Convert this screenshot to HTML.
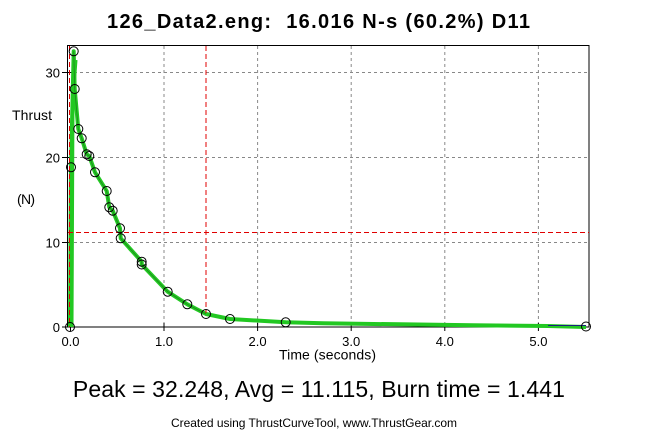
<!DOCTYPE html>
<html><head><meta charset="utf-8"><style>
html,body{margin:0;padding:0;background:#fff;}
svg{display:block;font-family:"Liberation Sans",Arial,sans-serif;}
</style></head><body>
<svg width="645" height="437" viewBox="0 0 645 437" xmlns="http://www.w3.org/2000/svg">
<rect x="0" y="0" width="645" height="437" fill="#fff"/>
<!-- title -->
<text x="318.5" y="28" text-anchor="middle" font-size="20" font-weight="bold" textLength="423" lengthAdjust="spacing" xml:space="preserve">126_Data2.eng:  16.016 N-s (60.2%) D11</text>
<!-- grid -->
<g stroke="#888" stroke-width="1" stroke-dasharray="3,3" fill="none">
<line x1="164" y1="46" x2="164" y2="327"/>
<line x1="257.6" y1="46" x2="257.6" y2="327"/>
<line x1="351.2" y1="46" x2="351.2" y2="327"/>
<line x1="444.8" y1="46" x2="444.8" y2="327"/>
<line x1="538.4" y1="46" x2="538.4" y2="327"/>
<line x1="68" y1="72.5" x2="589" y2="72.5"/>
<line x1="68" y1="157.5" x2="589" y2="157.5"/>
<line x1="68" y1="242.5" x2="589" y2="242.5"/>
</g>
<!-- frame -->
<rect x="67.5" y="45.5" width="521.5" height="281.5" fill="none" stroke="#000" stroke-width="1"/>
<!-- ticks -->
<g stroke="#000" stroke-width="1">
<line x1="70.5" y1="323" x2="70.5" y2="331"/>
<line x1="164" y1="323" x2="164" y2="331"/>
<line x1="257.6" y1="323" x2="257.6" y2="331"/>
<line x1="351.2" y1="323" x2="351.2" y2="331"/>
<line x1="444.8" y1="323" x2="444.8" y2="331"/>
<line x1="538.4" y1="323" x2="538.4" y2="331"/>
<line x1="62" y1="327" x2="72" y2="327"/>
<line x1="62" y1="242.5" x2="72" y2="242.5"/>
<line x1="62" y1="157.5" x2="72" y2="157.5"/>
<line x1="62" y1="72.5" x2="72" y2="72.5"/>
</g>
<!-- tick labels -->
<g font-size="13" fill="#000">
<text x="60" y="332" text-anchor="end">0</text>
<text x="60" y="247.5" text-anchor="end">10</text>
<text x="60" y="162.3" text-anchor="end">20</text>
<text x="60" y="77.5" text-anchor="end">30</text>
<text x="70.5" y="346" text-anchor="middle">0.0</text>
<text x="164" y="346" text-anchor="middle">1.0</text>
<text x="257.6" y="346" text-anchor="middle">2.0</text>
<text x="351.2" y="346" text-anchor="middle">3.0</text>
<text x="444.8" y="346" text-anchor="middle">4.0</text>
<text x="538.4" y="346" text-anchor="middle">5.0</text>
</g>
<text x="12" y="120" font-size="14" textLength="40" lengthAdjust="spacing">Thrust</text>
<text x="17" y="204" font-size="14" textLength="18" lengthAdjust="spacing">(N)</text>
<text x="279" y="359.5" font-size="14" textLength="97" lengthAdjust="spacing">Time (seconds)</text>
<!-- curve -->
<polyline fill="none" stroke="#22c822" stroke-width="4" stroke-linejoin="round" points="70,327 71,167.3 73.7,51.3 74.7,89 78.3,129 81.7,138.3 86.7,154.3 89.3,156 95,172.3 106.7,191 109.3,207.3 112.7,210.7 120,228.3 120.7,238.3 141.7,261.7 141.7,264.5 167.7,291.7 187.3,304.3 206,314 230,319 285.7,322.3 323,323.3 400,324.3 473,325.3 548,326 586,327"/>
<polyline fill="none" stroke="#22c822" stroke-width="3" points="72,327 73,100 76,60"/>
<polyline fill="none" stroke="#1d5a1d" stroke-width="0.8" stroke-opacity="0.6" points="73.7,51.3 74.7,89 78.3,129 81.7,138.3 86.7,154.3 89.3,156 95,172.3 106.7,191 109.3,207.3 112.7,210.7 120,228.3 120.7,238.3 141.7,261.7 141.7,264.5 167.7,291.7 187.3,304.3 206,314"/>
<line x1="548" y1="325.5" x2="586" y2="325.5" stroke="#1a237e" stroke-width="1"/>
<!-- red lines -->
<g stroke="#e00000" stroke-width="1.2" stroke-dasharray="5,3" fill="none" shape-rendering="crispEdges">
<path d="M69.5 46 V327"/>
<path d="M206 46 V313"/>
<path d="M68 232.5 H589"/>
</g>
<!-- markers -->
<g fill="none" stroke="#000" stroke-width="1">
<circle cx="70" cy="327" r="4.5"/>
<circle cx="71" cy="167.3" r="4.5"/>
<circle cx="73.7" cy="51.3" r="4.5"/>
<circle cx="74.7" cy="89" r="4.5"/>
<circle cx="78.3" cy="129" r="4.5"/>
<circle cx="81.7" cy="138.3" r="4.5"/>
<circle cx="86.7" cy="154.3" r="4.5"/>
<circle cx="89.3" cy="156" r="4.5"/>
<circle cx="95" cy="172.3" r="4.5"/>
<circle cx="106.7" cy="191" r="4.5"/>
<circle cx="109.3" cy="207.3" r="4.5"/>
<circle cx="112.7" cy="210.7" r="4.5"/>
<circle cx="120" cy="228.3" r="4.5"/>
<circle cx="120.7" cy="238.3" r="4.5"/>
<circle cx="141.7" cy="261.7" r="4.5"/>
<circle cx="141.7" cy="264.5" r="4.5"/>
<circle cx="167.7" cy="291.7" r="4.5"/>
<circle cx="187.3" cy="304.3" r="4.5"/>
<circle cx="206" cy="314" r="4.5"/>
<circle cx="230" cy="319" r="4.5"/>
<circle cx="285.7" cy="322.3" r="4.5"/>
<circle cx="586" cy="326.5" r="4.5"/>
</g>
<!-- bottom text -->
<text x="318.9" y="397" text-anchor="middle" font-size="23" textLength="492" lengthAdjust="spacing">Peak = 32.248, Avg = 11.115, Burn time = 1.441</text>
<text x="314" y="427" text-anchor="middle" font-size="12" textLength="286" lengthAdjust="spacing">Created using ThrustCurveTool, www.ThrustGear.com</text>
</svg>
</body></html>
